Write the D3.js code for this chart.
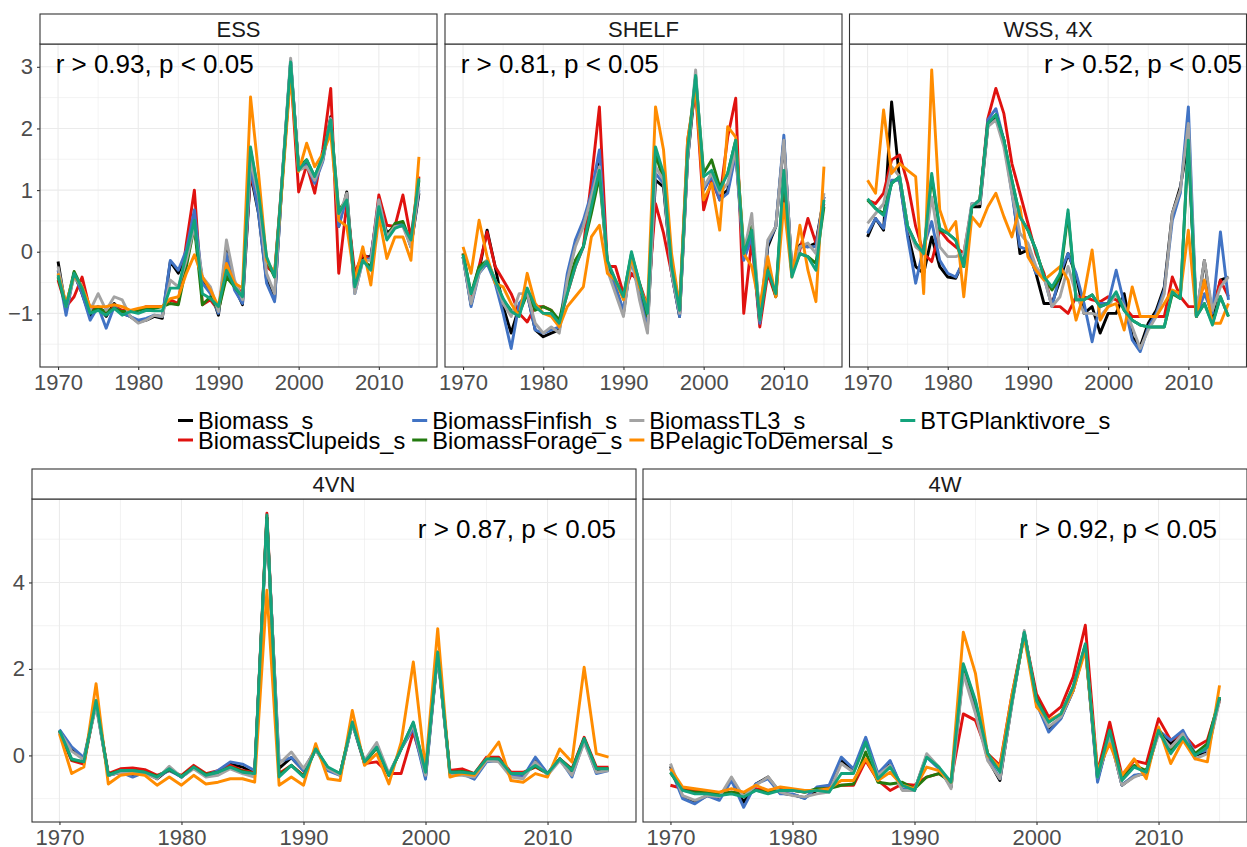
<!DOCTYPE html>
<html><head><meta charset="utf-8">
<script src="https://cdn.jsdelivr.net/npm/d3@7"></script>
<style>
body{margin:0;background:#fff;}
svg{display:block;font-family:"Liberation Sans",Arial,Helvetica,sans-serif;}
</style></head><body>
<svg id="chart" width="1247" height="847"></svg>
<script>
const years = [1970,1971,1972,1973,1974,1975,1976,1977,1978,1979,1980,1981,1982,1983,1984,1985,1986,1987,1988,1989,1990,1991,1992,1993,1994,1995,1996,1997,1998,1999,2000,2001,2002,2003,2004,2005,2006,2007,2008,2009,2010,2011,2012,2013,2014,2015];
const seriesNames = ["Biomass_s","BiomassClupeids_s","BiomassFinfish_s","BiomassForage_s","BiomassTL3_s","BPelagicToDemersal_s","BTGPlanktivore_s"];
const seriesColors = ["#000000","#E0120F","#4173C4","#237A0F","#A3A3A3","#FF8C00","#13A37C"];

// ESS
const ess_biomass = [-0.16,-0.95,-0.35,-0.68,-1.05,-0.89,-1.05,-0.84,-1.00,-1.05,-1.14,-1.11,-1.05,-1.08,-0.16,-0.35,-0.03,0.38,-0.46,-0.62,-1.03,0.08,-0.57,-0.86,1.27,0.62,-0.46,-0.78,1.27,3.08,1.35,1.43,1.16,1.49,2.19,0.41,0.97,-0.62,-0.08,-0.08,0.78,0.30,0.41,0.46,0.08,0.95];
const ess_clupeids = [-0.46,-0.89,-0.73,-0.41,-0.95,-0.89,-1.00,-0.89,-0.95,-0.97,-0.95,-0.89,-0.89,-0.89,-0.78,-0.84,0.14,1.00,-0.86,-0.78,-0.95,-0.35,-0.54,-0.68,1.27,0.73,-0.24,-0.35,1.27,2.95,0.97,1.41,0.95,1.65,2.65,-0.35,0.78,-0.35,-0.03,-0.14,0.92,0.43,0.41,0.92,0.22,1.22];
const ess_finfish = [-0.30,-1.03,-0.35,-0.68,-1.11,-0.89,-1.24,-0.89,-1.00,-1.05,-1.11,-1.08,-1.03,-1.05,-0.14,-0.30,0.03,0.68,-0.51,-0.68,-1.00,-0.03,-0.62,-0.84,1.38,0.62,-0.51,-0.81,1.27,3.11,1.32,1.41,1.11,1.46,2.16,0.41,0.89,-0.68,-0.14,-0.11,0.84,0.24,0.41,0.46,0.08,1.00];
const ess_forage = [-0.41,-0.89,-0.32,-0.59,-0.97,-0.92,-0.97,-0.92,-0.97,-0.97,-0.95,-0.92,-0.92,-0.89,-0.84,-0.86,-0.24,0.41,-0.86,-0.73,-0.95,-0.41,-0.57,-0.73,1.65,0.95,-0.14,-0.41,1.22,3.00,1.38,1.49,1.22,1.54,2.14,0.68,0.84,-0.51,-0.14,-0.24,0.73,0.24,0.46,0.49,0.14,1.16];
const ess_tl3 = [-0.24,-0.89,-0.41,-0.57,-0.95,-0.68,-0.95,-0.73,-0.78,-1.05,-1.16,-1.11,-1.03,-1.05,-0.46,-0.57,-0.14,0.41,-0.41,-0.57,-0.97,0.19,-0.46,-0.78,1.49,0.89,-0.35,-0.68,1.32,3.14,1.32,1.38,1.16,1.49,2.16,0.57,0.95,-0.68,-0.14,-0.14,0.84,0.24,0.41,0.41,0.08,1.05];
const ess_pelagic = [-0.35,-0.84,-0.38,-0.57,-0.89,-0.89,-0.89,-0.86,-0.89,-0.95,-0.92,-0.89,-0.89,-0.89,-0.76,-0.73,-0.35,-0.05,-0.41,-0.62,-0.89,-0.19,-0.51,-0.59,2.51,1.27,-0.14,-0.35,1.16,2.89,1.30,1.76,1.38,1.59,1.92,0.51,0.41,-0.46,0.08,-0.54,0.57,-0.11,0.24,0.24,-0.14,1.54];
const ess_planktivore = [-0.38,-0.89,-0.35,-0.59,-1.00,-0.95,-1.03,-0.92,-1.03,-0.97,-1.00,-0.95,-0.96,-0.96,-0.59,-0.59,-0.03,0.51,-0.68,-0.76,-0.89,-0.30,-0.57,-0.73,1.70,0.95,-0.08,-0.41,1.27,3.08,1.32,1.49,1.22,1.54,2.14,0.62,0.84,-0.57,-0.14,-0.30,0.73,0.19,0.38,0.43,0.19,1.19];

// SHELF
const shelf_biomass = [-0.08,-0.86,-0.30,0.35,-0.24,-0.89,-1.32,-0.89,-0.68,-1.27,-1.38,-1.32,-1.27,-0.46,0.14,0.46,0.89,1.43,-0.24,-0.57,-1.00,-0.08,-0.62,-1.22,1.16,1.05,-0.35,-1.05,1.49,2.78,1.00,1.27,0.89,1.00,1.65,-0.08,0.30,-1.16,0.08,0.41,1.81,-0.30,0.11,0.08,0.14,0.89];
const shelf_clupeids = [-0.03,-0.73,-0.24,0.32,-0.24,-0.46,-0.68,-1.00,-1.14,-0.89,-0.89,-0.95,-1.16,-0.68,-0.24,0.08,1.16,2.35,-0.24,-0.24,-0.68,-0.35,-0.51,-0.89,0.78,0.30,-0.35,-1.00,1.81,2.62,0.68,1.16,0.84,1.86,2.49,-1.00,0.19,-1.22,-0.35,-0.73,1.11,-0.35,0.03,0.54,0.14,0.78];
const shelf_finfish = [-0.08,-0.89,-0.35,-0.19,-0.51,-1.00,-1.57,-0.84,-0.68,-1.27,-1.32,-1.27,-1.22,-0.35,0.19,0.51,0.95,1.65,-0.24,-0.57,-0.95,-0.14,-0.68,-1.16,1.27,1.11,-0.35,-1.05,1.51,2.84,1.00,1.22,0.84,0.95,1.59,-0.14,0.24,-1.16,0.14,0.41,1.89,-0.35,0.08,0.08,0.08,0.89];
const shelf_forage = [-0.03,-0.68,-0.24,-0.14,-0.46,-0.78,-0.95,-1.00,-0.68,-0.95,-0.89,-0.95,-1.11,-0.57,-0.14,0.08,0.62,1.22,-0.19,-0.46,-0.73,-0.03,-0.51,-1.05,1.59,1.16,-0.19,-0.89,1.59,2.84,1.27,1.49,1.05,1.27,1.81,0.03,0.41,-1.05,-0.24,-0.73,1.27,-0.35,-0.03,-0.08,-0.19,0.73];
const shelf_tl3 = [-0.08,-0.84,-0.35,-0.14,-0.46,-0.84,-1.05,-0.68,-0.68,-1.16,-1.32,-1.22,-1.32,-0.46,0.08,0.41,0.89,1.38,-0.30,-0.68,-1.05,-0.08,-0.78,-1.32,1.38,1.16,-0.35,-1.00,1.51,2.95,1.05,1.27,0.95,1.11,1.65,-0.03,0.62,-1.11,0.19,0.41,1.81,-0.30,0.08,0.14,-0.03,0.95];
const shelf_pelagic = [0.08,-0.35,0.51,-0.08,-0.51,-0.57,-0.84,-1.05,-0.35,-0.84,-1.00,-1.05,-1.22,-0.89,-0.73,-0.57,0.24,0.43,-0.35,-0.46,-0.78,-0.08,-0.57,-0.89,2.35,1.65,-0.03,-0.89,1.81,2.68,0.84,1.11,0.35,2.03,1.86,-0.03,-0.24,-0.89,-0.08,-0.73,0.78,-0.41,0.43,-0.30,-0.81,1.38];
const shelf_planktivore = [-0.05,-0.68,-0.30,-0.16,-0.46,-0.76,-0.97,-1.05,-0.59,-0.89,-1.00,-1.00,-1.16,-0.68,-0.24,0.08,0.73,1.32,-0.14,-0.46,-0.73,0.00,-0.51,-1.00,1.70,1.27,-0.24,-0.95,1.65,2.86,1.22,1.32,1.00,1.27,1.81,-0.03,0.35,-1.11,-0.30,-0.68,1.32,-0.41,-0.03,-0.08,-0.30,0.84];

// WSS, 4X
const wss_biomass = [0.24,0.54,0.35,2.43,1.16,0.30,-0.24,-0.35,0.24,-0.24,-0.41,-0.43,-0.14,0.73,0.73,2.03,2.19,1.81,1.05,-0.03,0.03,-0.35,-0.84,-0.84,-0.46,-0.03,-0.38,-1.00,-0.89,-1.32,-1.00,-1.00,-0.68,-1.38,-1.54,-1.16,-0.95,-0.57,0.62,1.05,1.81,-1.05,-0.14,-1.05,-0.46,-0.41];
const wss_clupeids = [0.84,0.78,0.95,1.49,1.57,1.11,0.41,-0.03,-0.16,0.35,0.19,0.08,-0.03,0.73,0.84,2.16,2.65,2.24,1.43,0.95,0.46,-0.03,-0.35,-0.89,-0.89,-1.00,-0.73,-0.73,-0.78,-0.81,-0.73,-0.78,-0.89,-1.05,-1.05,-1.05,-1.05,-1.05,-0.41,-0.73,-0.89,-0.89,-0.51,-0.95,-0.46,-0.73];
const wss_finfish = [0.30,0.54,0.38,1.16,1.16,0.24,-0.51,0.08,0.49,-0.14,-0.35,-0.41,-0.14,0.78,0.78,2.14,2.32,1.81,0.95,0.08,0.03,-0.35,-0.41,-0.89,-0.35,-0.03,-0.35,-0.84,-1.46,-0.84,-0.84,-0.30,-0.84,-1.43,-1.62,-1.22,-1.00,-0.62,0.51,0.95,2.35,-1.05,-0.68,-1.00,0.32,-0.78];
const wss_forage = [0.84,0.70,0.62,1.11,1.22,0.41,0.14,-0.03,1.22,0.35,0.30,0.19,-0.24,0.73,0.84,2.08,2.22,1.81,1.16,0.57,0.35,0.03,-0.41,-0.62,-0.41,0.62,-0.78,-0.78,-0.70,-0.89,-0.84,-0.68,-0.95,-1.11,-1.19,-1.22,-1.22,-1.22,-0.68,-0.76,1.75,-1.05,-0.84,-1.16,-0.73,-1.05];
const wss_tl3 = [0.46,0.62,0.78,1.38,1.22,0.41,0.08,-0.03,0.89,0.08,-0.08,-0.08,-0.03,0.78,0.78,2.03,2.14,1.70,0.95,0.30,0.14,-0.24,-0.41,-0.89,-0.73,-0.24,-0.68,-1.00,-1.00,-1.05,-0.89,-0.68,-0.89,-1.22,-1.57,-1.27,-1.05,-0.68,0.62,1.00,2.08,-1.00,-0.14,-0.95,-0.57,-0.41];
const wss_pelagic = [1.16,0.95,2.30,1.27,1.43,1.32,1.22,-0.68,2.95,0.68,0.30,0.49,-0.73,0.57,0.41,0.73,0.95,0.57,0.24,0.73,-0.08,-0.30,-0.46,-0.35,-0.24,-0.46,-1.11,-0.68,0.03,-1.11,-0.89,-0.84,-1.27,-0.57,-1.05,-1.05,-1.05,-0.84,-0.62,-0.68,0.35,-1.05,-0.46,-1.16,-1.16,-0.84];
const wss_planktivore = [0.86,0.70,0.59,1.11,1.22,0.41,0.14,-0.03,1.27,0.38,0.30,0.19,-0.24,0.73,0.84,2.08,2.22,1.81,1.16,0.57,0.35,0.03,-0.41,-0.57,-0.35,0.68,-0.78,-0.78,-0.70,-0.89,-0.84,-0.65,-0.95,-1.11,-1.19,-1.22,-1.22,-1.22,-0.65,-0.76,1.81,-1.05,-0.84,-1.19,-0.73,-1.05];

// 4VN
const vn_biomass = [0.58,0.15,-0.10,1.20,-0.46,-0.39,-0.46,-0.39,-0.54,-0.31,-0.50,-0.27,-0.46,-0.39,-0.20,-0.27,-0.42,5.50,-0.30,-0.05,-0.35,0.15,-0.31,-0.46,0.75,-0.15,0.25,-0.46,0.15,0.68,-0.50,2.37,-0.42,-0.42,-0.50,-0.10,-0.10,-0.46,-0.50,-0.10,-0.42,-0.08,-0.42,0.35,-0.35,-0.33];
const vn_clupeids = [0.55,-0.12,-0.20,1.25,-0.42,-0.31,-0.29,-0.33,-0.46,-0.35,-0.46,-0.23,-0.42,-0.35,-0.23,-0.35,-0.40,5.60,-0.42,-0.23,-0.46,0.15,-0.31,-0.42,0.77,-0.19,-0.15,-0.42,-0.42,0.54,-0.39,2.39,-0.35,-0.31,-0.42,-0.04,-0.04,-0.39,-0.39,-0.27,-0.42,-0.08,-0.31,0.42,-0.27,-0.27];
const vn_finfish = [0.60,0.20,-0.05,1.20,-0.46,-0.39,-0.50,-0.39,-0.50,-0.35,-0.50,-0.29,-0.46,-0.35,-0.15,-0.20,-0.35,5.40,-0.15,-0.05,-0.35,0.15,-0.35,-0.46,0.73,-0.19,0.23,-0.46,0.15,0.62,-0.55,2.35,-0.42,-0.42,-0.55,-0.15,-0.12,-0.46,-0.50,-0.04,-0.42,-0.08,-0.50,0.35,-0.42,-0.35];
const vn_forage = [0.56,-0.10,-0.15,1.25,-0.44,-0.35,-0.35,-0.39,-0.48,-0.33,-0.48,-0.27,-0.44,-0.39,-0.27,-0.37,-0.42,5.50,-0.46,-0.23,-0.48,0.15,-0.29,-0.42,0.77,-0.17,0.17,-0.46,0.15,0.75,-0.39,2.37,-0.39,-0.37,-0.42,-0.08,-0.08,-0.42,-0.42,-0.25,-0.42,-0.08,-0.33,0.39,-0.31,-0.31];
const vn_tl3 = [0.55,0.10,-0.10,1.15,-0.46,-0.39,-0.42,-0.42,-0.54,-0.25,-0.50,-0.31,-0.50,-0.46,-0.31,-0.42,-0.50,5.45,-0.20,0.08,-0.30,0.12,-0.31,-0.46,0.73,-0.12,0.30,-0.42,0.15,0.70,-0.46,2.35,-0.46,-0.46,-0.50,-0.12,-0.15,-0.50,-0.54,-0.15,-0.46,-0.12,-0.46,0.30,-0.39,-0.35];
const vn_pelagic = [0.50,-0.42,-0.27,1.66,-0.66,-0.46,-0.42,-0.46,-0.69,-0.50,-0.69,-0.46,-0.66,-0.62,-0.54,-0.54,-0.62,3.82,-0.69,-0.50,-0.69,0.27,-0.54,-0.58,1.04,-0.23,0.04,-0.66,0.30,2.16,-0.31,2.93,-0.50,-0.42,-0.46,-0.08,0.31,-0.58,-0.62,-0.42,-0.50,0.15,-0.15,2.04,0.04,-0.04];
const vn_planktivore = [0.58,-0.08,-0.15,1.27,-0.46,-0.35,-0.35,-0.39,-0.50,-0.31,-0.50,-0.27,-0.46,-0.39,-0.27,-0.39,-0.42,5.56,-0.50,-0.23,-0.50,0.15,-0.27,-0.42,0.77,-0.15,0.19,-0.46,0.15,0.77,-0.39,2.39,-0.39,-0.39,-0.42,-0.08,-0.08,-0.42,-0.42,-0.23,-0.42,-0.08,-0.35,0.39,-0.31,-0.31];

// 4W
const w_biomass = [-0.25,-0.96,-1.08,-0.93,-1.00,-0.54,-1.08,-0.66,-0.50,-0.87,-0.91,-0.98,-0.81,-0.77,-0.10,-0.35,0.35,-0.46,-0.15,-0.79,-0.81,0.00,-0.29,-0.73,1.96,1.05,-0.08,-0.58,1.23,2.85,1.23,0.60,0.87,1.50,2.52,-0.56,0.46,-0.69,-0.48,-0.41,0.54,0.27,0.54,0.00,0.08,1.31];
const w_clupeids = [-0.69,-0.77,-0.81,-0.85,-0.89,-0.85,-0.89,-0.77,-0.81,-0.77,-0.81,-0.85,-0.81,-0.73,-0.69,-0.69,-0.12,-0.58,-0.81,-0.66,-0.69,-0.50,-0.42,-0.58,0.96,0.81,0.04,-0.23,1.42,2.82,1.42,0.89,1.12,1.81,3.01,-0.39,0.77,-0.46,-0.12,-0.19,0.85,0.35,0.50,0.19,0.35,1.27];
const w_finfish = [-0.30,-1.00,-1.12,-0.93,-1.04,-0.58,-1.20,-0.66,-0.54,-0.89,-0.89,-1.00,-0.73,-0.69,-0.04,-0.31,0.42,-0.42,-0.12,-0.77,-0.81,-0.04,-0.31,-0.69,2.04,1.12,-0.04,-0.54,1.27,2.82,1.20,0.54,0.85,1.50,2.52,-0.62,0.50,-0.69,-0.46,-0.42,0.58,0.35,0.58,0.04,0.12,1.35];
const w_forage = [-0.40,-0.81,-0.85,-0.85,-0.89,-0.85,-0.89,-0.81,-0.85,-0.81,-0.81,-0.85,-0.77,-0.77,-0.69,-0.66,0.08,-0.62,-0.66,-0.62,-0.77,-0.50,-0.42,-0.62,2.08,1.23,0.04,-0.35,1.35,2.82,1.31,0.77,0.96,1.58,2.55,-0.46,0.58,-0.54,-0.23,-0.35,0.62,0.12,0.42,0.04,0.27,1.35];
const w_tl3 = [-0.19,-0.93,-1.04,-0.93,-0.96,-0.50,-0.96,-0.69,-0.50,-0.85,-0.93,-0.96,-0.89,-0.85,-0.19,-0.39,0.27,-0.46,-0.23,-0.81,-0.81,0.04,-0.27,-0.77,1.89,0.96,-0.12,-0.54,1.20,2.89,1.20,0.66,0.89,1.50,2.52,-0.50,0.42,-0.69,-0.50,-0.39,0.50,0.19,0.50,-0.08,0.04,1.27];
const w_pelagic = [-0.31,-0.73,-0.77,-0.81,-0.85,-0.77,-0.85,-0.69,-0.81,-0.73,-0.77,-0.81,-0.81,-0.77,-0.58,-0.58,-0.08,-0.58,-0.39,-0.69,-0.77,-0.27,-0.35,-0.62,2.85,1.89,0.00,-0.27,1.42,2.74,1.12,0.81,0.96,1.50,2.43,-0.35,0.27,-0.46,-0.08,-0.54,0.66,-0.19,0.35,-0.08,-0.15,1.62];
const w_planktivore = [-0.39,-0.81,-0.89,-0.89,-0.93,-0.89,-0.96,-0.81,-0.89,-0.81,-0.81,-0.85,-0.81,-0.85,-0.42,-0.42,0.31,-0.54,-0.27,-0.69,-0.81,-0.04,-0.27,-0.62,2.12,1.27,0.04,-0.39,1.27,2.85,1.27,0.77,0.96,1.58,2.58,-0.50,0.58,-0.58,-0.27,-0.39,0.58,0.04,0.42,0.00,0.19,1.35];

const panelTitles = ["ESS","SHELF","WSS, 4X","4VN","4W"];
const panelSeries = [
  [ess_biomass,ess_clupeids,ess_finfish,ess_forage,ess_tl3,ess_pelagic,ess_planktivore],
  [shelf_biomass,shelf_clupeids,shelf_finfish,shelf_forage,shelf_tl3,shelf_pelagic,shelf_planktivore],
  [wss_biomass,wss_clupeids,wss_finfish,wss_forage,wss_tl3,wss_pelagic,wss_planktivore],
  [vn_biomass,vn_clupeids,vn_finfish,vn_forage,vn_tl3,vn_pelagic,vn_planktivore],
  [w_biomass,w_clupeids,w_finfish,w_forage,w_tl3,w_pelagic,w_planktivore]
];
const annTexts = ["r > 0.93, p < 0.05","r > 0.81, p < 0.05","r > 0.52, p < 0.05","r > 0.87, p < 0.05","r > 0.92, p < 0.05"];
const annX = [1969.7,1969.7,2016.7,2015.6,2014.8];
const annY = [2.90,2.90,2.90,5.03,5.03];
const annAnchor = ["start","start","end","end","end"];

const xTicks = [1970,1980,1990,2000,2010];
const xMinor = [1975,1985,1995,2005,2015];
const topYTicks = [-1,0,1,2,3];
const topYMinor = [-1.5,-0.5,0.5,1.5,2.5];
const botYTicks = [0,2,4];
const botYMinor = [-1,1,3,5];
const xDomain = [1967.75,2017.25];
const topYDomain = [-1.87,3.37];
const botYDomain = [-1.54,5.93];

// layout (pixels)
const layout = [
  {x:40, y:44, w:397, h:323, row:0, axisY:true},
  {x:445, y:44, w:397, h:323, row:0, axisY:false},
  {x:849.5, y:44, w:397, h:323, row:0, axisY:false},
  {x:32, y:499, w:604, h:323, row:1, axisY:true},
  {x:643, y:499, w:604, h:323, row:1, axisY:false}
];
const stripH = 30;

const svg = d3.select("#chart");
svg.append("rect").attr("width",1247).attr("height",847).attr("fill","#fff");
const defs = svg.append("defs");

layout.forEach((L, i) => {
  const g = svg.append("g");
  const x = d3.scaleLinear().domain(xDomain).range([L.x, L.x + L.w]);
  const y = d3.scaleLinear().domain(L.row === 0 ? topYDomain : botYDomain).range([L.y + L.h, L.y]);
  const yT = L.row === 0 ? topYTicks : botYTicks;
  const yM = L.row === 0 ? topYMinor : botYMinor;

  g.append("rect").attr("x",L.x).attr("y",L.y).attr("width",L.w).attr("height",L.h).attr("fill","#fff");
  const grid = g.append("g");
  grid.selectAll(".ym").data(yM).enter().append("line")
    .attr("x1",L.x).attr("x2",L.x+L.w).attr("y1",d=>y(d)).attr("y2",d=>y(d))
    .attr("stroke","#EBEBEB").attr("stroke-width",0.6);
  grid.selectAll(".xm").data(xMinor).enter().append("line")
    .attr("y1",L.y).attr("y2",L.y+L.h).attr("x1",d=>x(d)).attr("x2",d=>x(d))
    .attr("stroke","#EBEBEB").attr("stroke-width",0.6);
  grid.selectAll(".yM").data(yT).enter().append("line")
    .attr("x1",L.x).attr("x2",L.x+L.w).attr("y1",d=>y(d)).attr("y2",d=>y(d))
    .attr("stroke","#EBEBEB").attr("stroke-width",1.1);
  grid.selectAll(".xM").data(xTicks).enter().append("line")
    .attr("y1",L.y).attr("y2",L.y+L.h).attr("x1",d=>x(d)).attr("x2",d=>x(d))
    .attr("stroke","#EBEBEB").attr("stroke-width",1.1);

  defs.append("clipPath").attr("id","clip"+i).append("rect")
    .attr("x",L.x).attr("y",L.y).attr("width",L.w).attr("height",L.h);

  const line = d3.line().x((d,j)=>x(years[j])).y(d=>y(d)).curve(d3.curveLinear);
  const lg = g.append("g").attr("clip-path","url(#clip"+i+")");
  panelSeries[i].forEach((vals, s) => {
    lg.append("path").datum(vals).attr("d", line)
      .attr("fill","none").attr("stroke",seriesColors[s])
      .attr("stroke-width",2.9).attr("stroke-linejoin","round").attr("stroke-linecap","butt");
  });

  g.append("text").attr("x",x(annX[i])).attr("y",y(annY[i]))
    .attr("text-anchor",annAnchor[i]).attr("font-size","26px").attr("fill","#000")
    .text(annTexts[i]);

  g.append("rect").attr("x",L.x).attr("y",L.y).attr("width",L.w).attr("height",L.h)
    .attr("fill","none").attr("stroke","#333333").attr("stroke-width",1.1);

  g.append("rect").attr("x",L.x).attr("y",L.y-stripH).attr("width",L.w).attr("height",stripH)
    .attr("fill","#fff").attr("stroke","#333333").attr("stroke-width",1.1);
  g.append("text").attr("x",L.x+L.w/2).attr("y",L.y-stripH/2).attr("dy","0.36em")
    .attr("text-anchor","middle").attr("font-size","22px").attr("fill","#1A1A1A")
    .text(panelTitles[i]);

  const xa = g.append("g").attr("transform",`translate(0,${L.y+L.h})`)
    .call(d3.axisBottom(x).tickValues(xTicks).tickFormat(d3.format("d")).tickSize(3).tickPadding(4.5));
  xa.select(".domain").remove();
  xa.selectAll("line").attr("stroke","#333333").attr("stroke-width",1.1);
  xa.selectAll("text").attr("font-size","22px").attr("fill","#4D4D4D").attr("font-family","Liberation Sans, Arial, sans-serif");

  if (L.axisY) {
    const ya = g.append("g").attr("transform",`translate(${L.x},0)`)
      .call(d3.axisLeft(y).tickValues(yT).tickFormat(d3.format("d")).tickSize(3).tickPadding(4));
    ya.select(".domain").remove();
    ya.selectAll("line").attr("stroke","#333333").attr("stroke-width",1.1);
    ya.selectAll("text").attr("font-size","22px").attr("fill","#4D4D4D").attr("font-family","Liberation Sans, Arial, sans-serif");
  }
});

// legend (2 rows, filled by column)
const legend = svg.append("g");
const legStartX = 178, legRowY = [420.5, 440], keyLen = 15, keyGap = 5, colGap = 7;
const nRows = 2;
const nCols = Math.ceil(seriesNames.length / nRows);
let cx = legStartX;
for (let c = 0; c < nCols; c++) {
  let maxW = 0;
  for (let r = 0; r < nRows; r++) {
    const k = c * nRows + r;
    if (k >= seriesNames.length) break;
    legend.append("line").attr("x1",cx).attr("x2",cx+keyLen)
      .attr("y1",legRowY[r]).attr("y2",legRowY[r])
      .attr("stroke",seriesColors[k]).attr("stroke-width",3);
    const t = legend.append("text").attr("x",cx+keyLen+keyGap).attr("y",legRowY[r]+8.7)
      .attr("font-size","23.6px").attr("fill","#000").text(seriesNames[k]);
    maxW = Math.max(maxW, t.node().getComputedTextLength());
  }
  cx = cx + keyLen + keyGap + maxW + colGap;
}
</script>
</body></html>
